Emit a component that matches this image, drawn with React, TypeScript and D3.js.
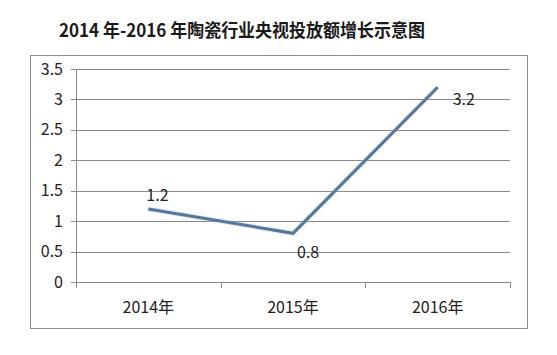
import React from "react";
import * as d3 from "d3";

const categories = ["2014年", "2015年", "2016年"];
const values = [1.2, 0.8, 3.2];
const yTicks = [0, 0.5, 1, 1.5, 2, 2.5, 3, 3.5];
const title = "2014 年-2016 年陶瓷行业央视投放额增长示意图";

const W = 557;
const H = 355;

export default function App() {
  const x = d3.scaleBand<string>().domain(categories).range([76, 510]);
  const y = d3.scaleLinear().domain([0, 3.5]).range([282, 69]);
  const cx = (c: string) => (x(c) as number) + x.bandwidth() / 2;
  const line = d3
    .line<number>()
    .x((_, i) => cx(categories[i]))
    .y((d) => y(d));
  const labelFont = "'Noto Sans CJK SC', 'Open Sans', sans-serif";
  const grid = "#8a8a8a";
  const offsets = [
    { dx: -2, dy: -14, anchor: "start" },
    { dx: 4, dy: 19, anchor: "start" },
    { dx: 15, dy: 12, anchor: "start" },
  ];
  const ticksX = [...categories.map((c) => x(c) as number), 510];
  return (
    <div style={{ position: "fixed", left: 0, top: 0 }}>
      <svg width={W} height={H} style={{ display: "block", background: "#fff" }}>
        <rect x={0} y={0} width={W} height={H} fill="#fff" />
        <text
          x={59}
          y={37}
          fontFamily="'Noto Sans CJK SC', sans-serif"
          fontWeight={700}
          fontSize={18}
          fill="#1a1a1a"
          textLength={366}
          lengthAdjust="spacingAndGlyphs"
        >
          {title}
        </text>
        <rect x={30.5} y={55.5} width={497} height={273} fill="none" stroke="#8c8c8c" strokeWidth={1} />
        {yTicks.map((t) => (
          <g key={t}>
            <line x1={71} x2={510} y1={Math.round(y(t)) + 0.5} y2={Math.round(y(t)) + 0.5} stroke={grid} strokeWidth={1} />
            <text
              x={63}
              y={y(t)}
              dy="0.35em"
              textAnchor="end"
              fontFamily={labelFont}
              fontSize={16}
              fill="#222"
            >
              {t}
            </text>
          </g>
        ))}
        <line x1={76.5} x2={76.5} y1={y(3.5)} y2={y(0)} stroke={grid} strokeWidth={1} />
        {ticksX.map((t, i) => (
          <line key={i} x1={Math.round(t) + 0.5} x2={Math.round(t) + 0.5} y1={y(0)} y2={y(0) + 6} stroke={grid} strokeWidth={1} />
        ))}
        {categories.map((c) => (
          <text
            key={c}
            x={cx(c)}
            y={313}
            textAnchor="middle"
            fontFamily={labelFont}
            fontSize={16}
            fill="#222"
          >
            {c}
          </text>
        ))}
        <path d={line(values) as string} fill="none" stroke="#a9c3dc" strokeWidth={5} strokeOpacity={0.35} strokeLinejoin="miter" />
        <path d={line(values) as string} fill="none" stroke="#56779a" strokeWidth={3} strokeLinejoin="miter" />
        {values.map((v, i) => (
          <text
            key={i}
            x={cx(categories[i]) + offsets[i].dx}
            y={y(v) + offsets[i].dy}
            dy="0.35em"
            textAnchor={offsets[i].anchor as any}
            fontFamily={labelFont}
            fontSize={16}
            fill="#222"
          >
            {v}
          </text>
        ))}
      </svg>
    </div>
  );
}
